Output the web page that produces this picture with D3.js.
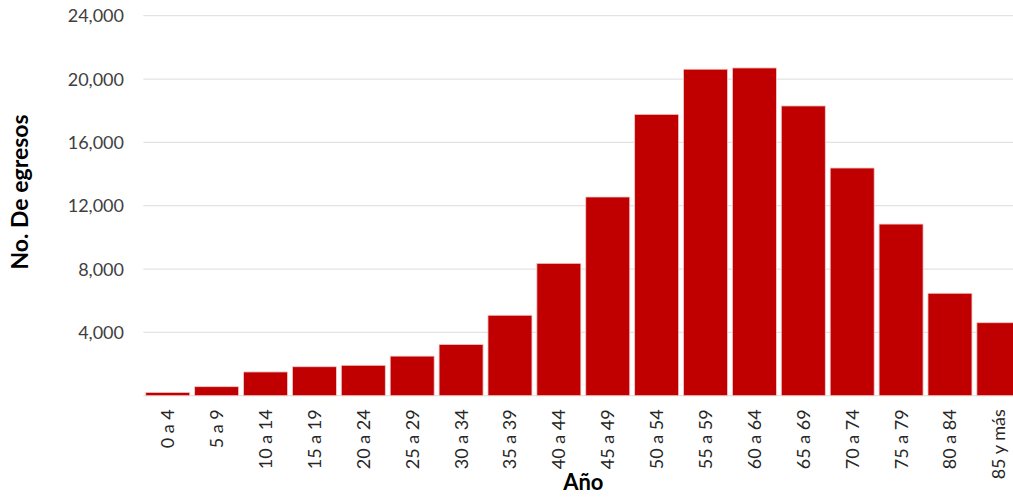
<!DOCTYPE html>
<html>
<head>
<meta charset="utf-8">
<script src="https://cdn.jsdelivr.net/npm/d3@7"></script>
<style>
  html, body { margin: 0; padding: 0; background: #fff; }
  svg { display: block; font-family: Lato, "Open Sans", sans-serif; }
</style>
</head>
<body>
<svg id="chart" width="1013" height="497"></svg>
<script>
// Egresos hospitalarios por grupo de edad
const categories = ["0 a 4", "5 a 9", "10 a 14", "15 a 19", "20 a 24", "25 a 29",
  "30 a 34", "35 a 39", "40 a 44", "45 a 49", "50 a 54", "55 a 59",
  "60 a 64", "65 a 69", "70 a 74", "75 a 79", "80 a 84", "85 y más"];
const egresos = [210, 570, 1500, 1830, 1920, 2500, 3240, 5080, 8360, 12550,
  17770, 20620, 20700, 18300, 14380, 10840, 6470, 4610];
const yTicks = [4000, 8000, 12000, 16000, 20000, 24000];
const gridValues = [0, 4000, 8000, 12000, 16000, 20000, 24000];

const svg = d3.select("#chart");

const plotLeft = 143.3, plotRight = 1023.3;
const plotTop = 15.7, plotBottom = 395.7;

const x = d3.scaleBand()
  .domain(categories)
  .range([plotLeft, plotRight])
  .paddingInner(0.1)
  .paddingOuter(0.05);

const y = d3.scaleLinear()
  .domain([0, 24000])
  .range([plotBottom, plotTop]);

// horizontal gridlines
svg.append("g")
  .selectAll("line")
  .data(gridValues)
  .join("line")
  .attr("x1", plotLeft)
  .attr("x2", plotRight)
  .attr("y1", d => y(d))
  .attr("y2", d => y(d))
  .attr("stroke", "#e3e3e3")
  .attr("stroke-width", 1.2);

// y axis labels
const yAxis = d3.axisLeft(y)
  .tickValues(yTicks)
  .tickFormat(d3.format(","))
  .tickSize(0)
  .tickPadding(0);

svg.append("g")
  .attr("transform", `translate(124,0)`)
  .call(yAxis)
  .call(g => g.select(".domain").remove())
  .call(g => g.selectAll("text")
    .attr("x", 0)
    .attr("dy", "0.34em")
    .attr("fill", "#404040")
    .style("font-size", "18px")
    .style("font-family", "Lato, sans-serif"));

// bars
svg.append("g")
  .selectAll("rect")
  .data(categories.map((c, i) => ({ c, v: egresos[i] })))
  .join("rect")
  .attr("x", d => x(d.c))
  .attr("width", x.bandwidth())
  .attr("y", d => y(d.v))
  .attr("height", d => y(0) - y(d.v))
  .attr("fill", "#c00000")
  .attr("stroke", "#f4caca")
  .attr("stroke-width", 0.8);

// x axis labels (rotated)
const xAxis = d3.axisBottom(x).tickSize(0).tickPadding(0);
svg.append("g")
  .attr("transform", `translate(0,${plotBottom})`)
  .call(xAxis)
  .call(g => g.select(".domain").remove())
  .call(g => g.selectAll("text")
    .attr("transform", "rotate(-90)")
    .attr("x", -13.6)
    .attr("y", 0)
    .attr("dx", 0)
    .attr("dy", "0.36em")
    .attr("text-anchor", "end")
    .attr("fill", "#262626")
    .style("font-size", "18px")
    .style("font-family", "Lato, sans-serif"));

// axis titles
svg.append("text")
  .attr("x", (plotLeft + plotRight) / 2)
  .attr("y", 490)
  .attr("text-anchor", "middle")
  .attr("font-weight", "bold")
  .attr("font-size", "22px")
  .attr("fill", "#000")
  .text("Año");

svg.append("text")
  .attr("transform", "translate(28,192) rotate(-90)")
  .attr("text-anchor", "middle")
  .attr("font-weight", "bold")
  .attr("font-size", "23px")
  .attr("fill", "#000")
  .text("No. De egresos");
</script>
</body>
</html>
